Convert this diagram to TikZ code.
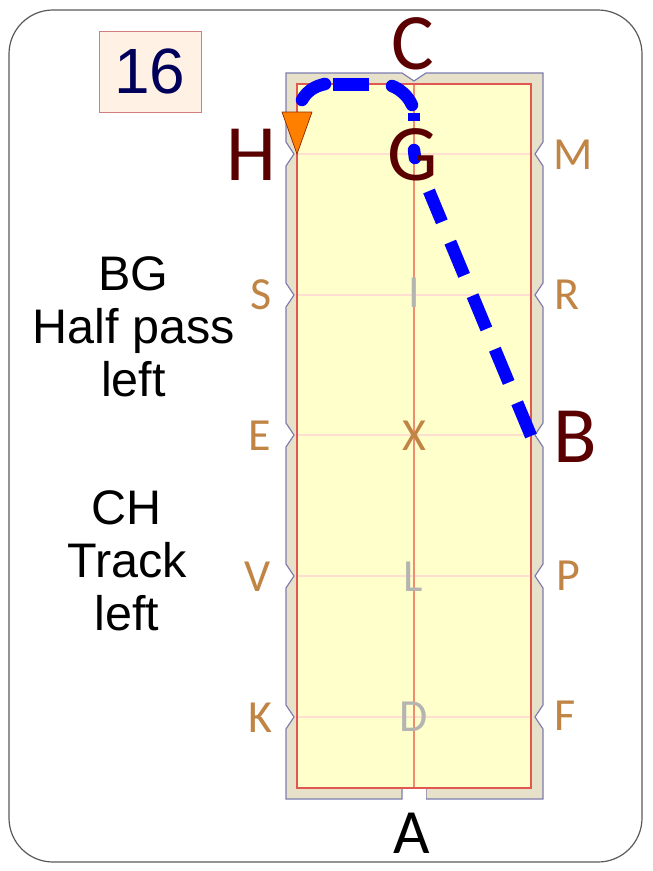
\documentclass[tikz,border=0pt]{standalone}
\usepackage{fontspec}
\setmainfont{Liberation Sans}
\newfontfamily\letterfont{Carlito}
\definecolor{arenatan}{HTML}{E8E1C9}
\definecolor{arenaedge}{HTML}{7C7CB0}
\definecolor{arenasand}{HTML}{FFFFCC}
\definecolor{arenared}{HTML}{E05850}
\definecolor{midline}{HTML}{F08C70}
\definecolor{crossline}{HTML}{FFE0D0}
\definecolor{lettertan}{HTML}{C08444}
\definecolor{lettergray}{HTML}{B4B4B0}
\definecolor{letterdark}{HTML}{5A0000}
\definecolor{walkblue}{HTML}{0000FF}
\definecolor{trackorange}{HTML}{FF8000}
\tikzset{
  marker/.style={font=\letterfont\fontsize{46}{46}\selectfont,text=lettertan,inner sep=0pt},
  graymarker/.style={marker,text=lettergray},
  bigmarker/.style={font=\letterfont\fontsize{80}{80}\selectfont,text=letterdark,inner sep=0pt},
  caption/.style={font=\fontsize{48.5}{53}\selectfont,align=center,inner sep=0pt},
  walk/.style={draw=walkblue,line width=12.5pt},
}
\begin{document}
\begin{tikzpicture}[x=1pt,y=-1pt]
    \useasboundingbox (0,0) rectangle (653,871);
    \draw[draw=black!65,line width=1.2pt,rounded corners=44pt] (9,10) rectangle (642,862);
    % arena wall with the notches
    \draw[arenaedge,fill=arenatan,line width=1.2pt]
    (286,73) -- (402,73) -- (414,81) -- (426,73) -- (543,73)
    \foreach \y in {154,295,435,576,717} { -- (543,\y-12) -- (535,\y) -- (543,\y+12) }
    -- (543,799) -- (426,799) -- (426,788) -- (402,788) -- (402,799) -- (286,799)
    \foreach \y in {717,576,435,295,154} { -- (286,\y+12) -- (294,\y) -- (286,\y-12) }
    -- cycle;
    \fill[white] (402.5,787) rectangle (425.5,801);
    \fill[arenasand] (297,84) rectangle (531,788);
    \foreach \y in {154,295,435,576,717}
    \draw[crossline,line width=1.2pt] (297,\y) -- (531,\y);
    \draw[midline,line width=1.3pt] (414,84) -- (414,788);
    \draw[arenared,line width=1.3pt] (297,84) rectangle (531,788);
    % the walked line
    \draw[walk,line cap=round] (302,100) .. controls (307,91) and (315,86) .. (325,84);
    \draw[walk] (333,84.5) -- (369,84.5);
    \draw[walk,line cap=round] (392,86) .. controls (400,89) and (408,96) .. (412,105);
    \draw[walk] (414,113) -- (414,121);
    \draw[walk,line cap=round] (414,150) -- (415,158);
    \draw[walk,dash pattern=on 36pt off 22pt] (531,436) -- (429,191);
    \draw[draw=letterdark!70!trackorange,fill=trackorange,line width=0.7pt,line join=round]
    (282,112) -- (312,112) -- (297,154) -- cycle;
    % letters round the arena
    \node[marker] (mM) at (573,155) {M};
    \node[marker] (mR) at (567,295) {R};
    \node[marker] (mS) at (261,295) {S};
    \node[marker] (mE) at (260,436) {E};
    \node[marker] (mX) at (414,436) {X};
    \node[marker] (mV) at (258,577) {V};
    \node[marker] (mP) at (568,576) {P};
    \node[marker] (mK) at (260,718) {K};
    \node[marker] (mF) at (565,716) {F};
    \node[graymarker] (mI) at (414,293) {I};
    \node[graymarker] (mL) at (413,577) {L};
    \node[graymarker] (mD) at (414,717) {D};
    \node[bigmarker] (mC) at (413,44) {C};
    \node[bigmarker] (mH) at (251,155) {H};
    \node[bigmarker] (mG) at (413,155) {G};
    \node[bigmarker] (mB) at (575,437) {B};
    \node[bigmarker,text=black,font=\letterfont\fontsize{63}{63}\selectfont] (mA) at (412,833) {A};
    \node[draw=red!45!gray!70,fill=orange!10,line width=0.8pt,minimum width=102pt,minimum height=81pt,
    inner sep=0pt,text={rgb,255:red,0;green,0;blue,90},font=\fontsize{64}{64}\selectfont] (number) at (150,71.5) {16};
    \node[caption] (gait1) at (133.5,327) {BG\\Half pass\\left};
    \node[caption] (gait2) at (127,561) {CH\\Track\\left};
\end{tikzpicture}
\end{document}
